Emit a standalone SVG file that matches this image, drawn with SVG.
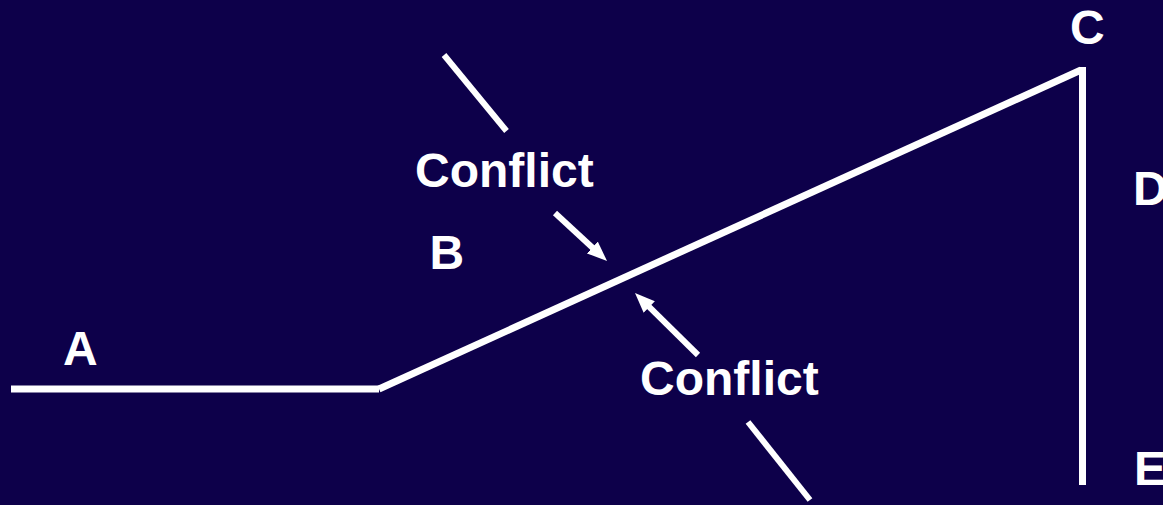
<svg xmlns="http://www.w3.org/2000/svg" width="1163" height="505" viewBox="0 0 1163 505">
<style>
.bg{fill:#0D004A}
.main{stroke:#FFFFFF;stroke-width:7;stroke-linecap:butt;fill:none}
.thin{stroke:#FFFFFF;stroke-width:6;stroke-linecap:butt;fill:none}
.lbl{font-family:"Liberation Sans",Arial,sans-serif;font-weight:bold;font-size:48px;fill:#FFFFFF}
</style>
<defs>
<marker id="ah" markerUnits="userSpaceOnUse" markerWidth="20" markerHeight="16" refX="4" refY="8" orient="auto">
<path d="M0,0 L20,8 L0,16 z" fill="#FFFFFF"/>
</marker>
</defs>
<rect class="bg" x="0" y="0" width="1163" height="505"/>
<g id="connectors">
<line class="main" x1="11" y1="389" x2="379" y2="389"/>
<line class="main" x1="379" y1="389" x2="1081" y2="70"/>
<line class="main" x1="1082.5" y1="67" x2="1082.5" y2="485"/>
<line class="thin" x1="444" y1="55" x2="506.5" y2="131"/>
<line class="thin" x1="748" y1="422" x2="810" y2="500"/>
<line class="thin" x1="555" y1="213" x2="595.3" y2="250.2" marker-end="url(#ah)"/>
<line class="thin" x1="698" y1="355" x2="646.4" y2="304.2" marker-end="url(#ah)"/>
</g>
<g id="node-A"><text class="lbl" x="63" y="365">A</text></g>
<g id="node-B"><text class="lbl" x="429.5" y="269">B</text></g>
<g id="node-C"><text class="lbl" x="1070" y="44">C</text></g>
<g id="node-D"><text class="lbl" x="1133" y="205">D</text></g>
<g id="node-E"><text class="lbl" x="1134" y="485">E</text></g>
<g id="label-conflict-1"><text class="lbl" x="415" y="187">Conflict</text></g>
<g id="label-conflict-2"><text class="lbl" x="640" y="395">Conflict</text></g>
</svg>
